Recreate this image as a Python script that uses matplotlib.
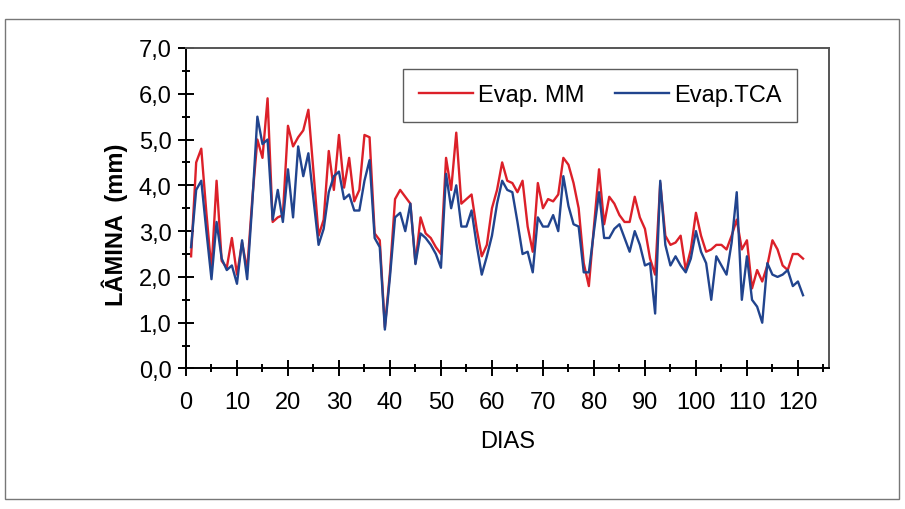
import matplotlib
matplotlib.use("Agg")
import matplotlib.pyplot as plt
from matplotlib.ticker import MultipleLocator, FuncFormatter
from matplotlib.patches import Rectangle

days = list(range(1, 122))
evap_mm = [2.45, 4.5, 4.8, 3.4, 2.15, 4.1, 2.35, 2.2, 2.85, 2.05,
           2.75, 2.15, 3.7, 5.0, 4.6, 5.9, 3.2, 3.3, 3.35, 5.3,
           4.85, 5.05, 5.2, 5.65, 4.3, 2.9, 3.25, 4.75, 3.9, 5.1,
           3.95, 4.6, 3.65, 3.9, 5.1, 5.05, 2.95, 2.8, 0.9, 2.1,
           3.7, 3.9, 3.75, 3.6, 2.3, 3.3, 2.95, 2.85, 2.65, 2.5,
           4.6, 3.9, 5.15, 3.6, 3.7, 3.8, 3.05, 2.45, 2.7, 3.5,
           3.9, 4.5, 4.1, 4.05, 3.85, 4.1, 3.1, 2.55, 4.05, 3.5,
           3.7, 3.65, 3.8, 4.6, 4.45, 4.05, 3.5, 2.3, 1.8, 3.1,
           4.35, 3.15, 3.75, 3.6, 3.35, 3.2, 3.2, 3.75, 3.3, 3.05,
           2.4, 2.05, 4.05, 2.9, 2.7, 2.75, 2.9, 2.15, 2.6, 3.4,
           2.9, 2.55, 2.6, 2.7, 2.7, 2.6, 2.9, 3.25, 2.6, 2.8,
           1.75, 2.15, 1.9, 2.25, 2.8, 2.6, 2.25, 2.15, 2.5, 2.5,
           2.4]
evap_tca = [2.65, 3.9, 4.1, 3.0, 1.95, 3.2, 2.4, 2.15, 2.25, 1.85,
            2.8, 1.95, 3.6, 5.5, 4.9, 5.0, 3.25, 3.9, 3.2, 4.35,
            3.3, 4.85, 4.2, 4.7, 3.7, 2.7, 3.05, 3.85, 4.2, 4.3,
            3.7, 3.8, 3.45, 3.45, 4.1, 4.55, 2.85, 2.65, 0.85, 2.0,
            3.3, 3.4, 3.0, 3.6, 2.28, 2.95, 2.85, 2.7, 2.5, 2.2,
            4.25, 3.5, 4.0, 3.1, 3.1, 3.45, 2.7, 2.05, 2.45, 2.9,
            3.6, 4.1, 3.9, 3.85, 3.2, 2.5, 2.55, 2.1, 3.3, 3.1,
            3.1, 3.35, 3.0, 4.2, 3.55, 3.15, 3.1, 2.1, 2.1, 3.0,
            3.85, 2.85, 2.85, 3.05, 3.15, 2.85, 2.55, 3.0, 2.7, 2.25,
            2.3, 1.2, 4.1, 2.7, 2.25, 2.45, 2.25, 2.1, 2.4, 3.0,
            2.55, 2.3, 1.5, 2.45, 2.25, 2.05, 2.75, 3.85, 1.5, 2.45,
            1.5, 1.35, 1.0, 2.3, 2.05, 2.0, 2.05, 2.15, 1.8, 1.9,
            1.6]

x_ticks = list(range(0, 121, 10))
y_ticks = [0, 1, 2, 3, 4, 5, 6, 7]

plt.rcParams['font.family'] = ['Liberation Sans', 'DejaVu Sans']
tick_fs, lab_fs, leg_fs = 17, 17, 17

fig = plt.figure(figsize=(9.05, 5.10), dpi=100)
fig.patch.set_facecolor('white')
ax = fig.add_axes([0.2055, 0.2755, 0.7100, 0.6285])

ax.plot(days, evap_mm, color='#dc2029', lw=1.7, label='Evap. MM', zorder=2)
ax.plot(days, evap_tca, color='#21448e', lw=1.7, label='Evap.TCA', zorder=3)

ax.set_xlim(0, 126)
ax.set_ylim(0, 7)
ax.set_xticks(x_ticks)
ax.set_yticks(y_ticks)
ax.xaxis.set_minor_locator(MultipleLocator(5))
ax.yaxis.set_minor_locator(MultipleLocator(0.5))
ax.yaxis.set_major_formatter(FuncFormatter(lambda v, p: f"{v:.1f}".replace('.', ',')))
ax.tick_params(axis='both', which='major', direction='inout', length=11, width=1.4,
               labelsize=tick_fs, colors='black')
ax.tick_params(axis='both', which='minor', direction='inout', length=6, width=1.4)
ax.tick_params(axis='x', which='major', pad=11)
ax.tick_params(axis='y', which='major', pad=5)
for s in ax.spines.values():
    s.set_linewidth(1.4)
ax.spines['top'].set_color('#555555')
ax.spines['right'].set_color('#555555')

ax.set_xlabel('DIAS', fontsize=lab_fs, labelpad=12)
ax.set_ylabel('LÂMINA  (mm)', fontsize=lab_fs, fontweight='bold')
ax.yaxis.set_label_coords(-0.09, 0.45)

leg = ax.legend(loc='upper left', bbox_to_anchor=(0.338, 0.934), ncol=2,
                fontsize=leg_fs, frameon=True, fancybox=False, handlelength=2.3,
                columnspacing=1.3, borderpad=0.65, handletextpad=0.2,
                borderaxespad=0)
leg.get_frame().set_edgecolor('#333333')
leg.get_frame().set_linewidth(1.0)

fig.patches.append(Rectangle((0.006, 0.02), 0.987, 0.94, transform=fig.transFigure,
                             fill=False, edgecolor='#777777', lw=1.0))

fig.savefig('out.png', dpi=100)
